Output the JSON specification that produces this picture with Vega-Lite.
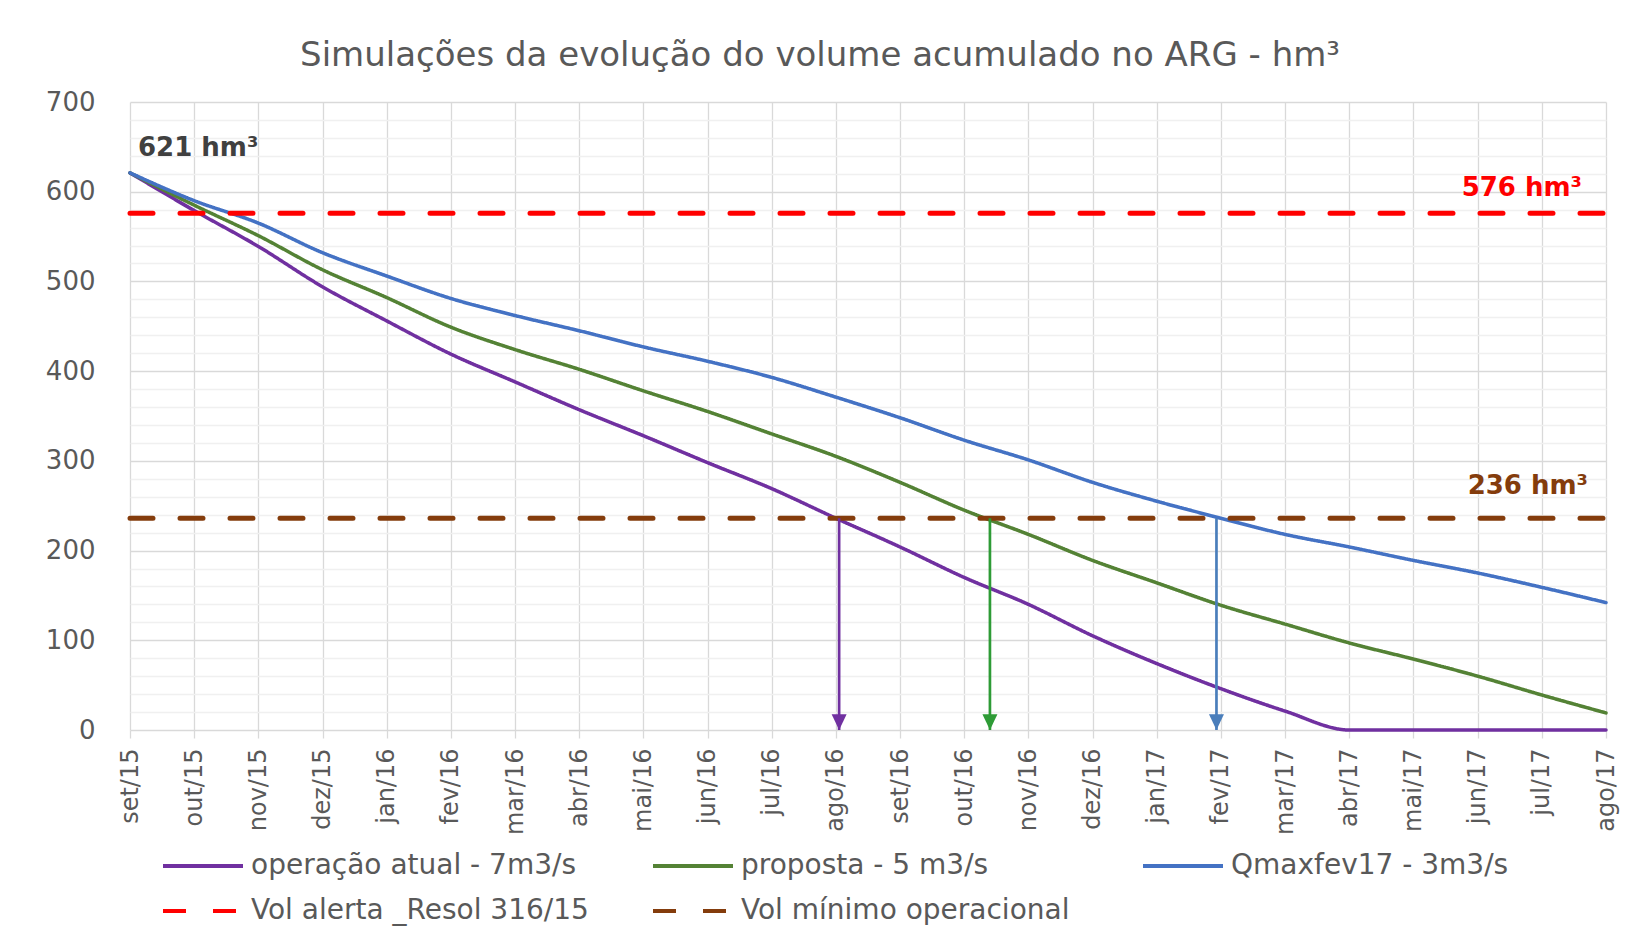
{
  "$schema": "https://vega.github.io/schema/vega-lite/v6.json",
  "autosize": {"type": "none"},
  "width": 1476,
  "height": 628,
  "padding": {"left": 130, "top": 102, "right": 20, "bottom": 209},
  "background": "white",
  "config": {"view": {"stroke": null}, "font": "DejaVu Sans"},
  "title": {
    "text": "Simulações da evolução do volume acumulado no ARG - hm³",
    "fontSize": 34,
    "font": "DejaVu Sans",
    "fontWeight": "normal",
    "color": "#595959",
    "anchor": "middle",
    "dx": -48,
    "offset": 16
  },
  "resolve": {"axis": {"y": "independent"}},
  "datasets": {
    "simulacoes": [
      {"t": 0, "mes": "set/15", "serie": "operação atual - 7m3/s", "v": 621},
      {"t": 1, "mes": "out/15", "serie": "operação atual - 7m3/s", "v": 579},
      {"t": 2, "mes": "nov/15", "serie": "operação atual - 7m3/s", "v": 539},
      {"t": 3, "mes": "dez/15", "serie": "operação atual - 7m3/s", "v": 494},
      {"t": 4, "mes": "jan/16", "serie": "operação atual - 7m3/s", "v": 456},
      {"t": 5, "mes": "fev/16", "serie": "operação atual - 7m3/s", "v": 419},
      {"t": 6, "mes": "mar/16", "serie": "operação atual - 7m3/s", "v": 388},
      {"t": 7, "mes": "abr/16", "serie": "operação atual - 7m3/s", "v": 357},
      {"t": 8, "mes": "mai/16", "serie": "operação atual - 7m3/s", "v": 328},
      {"t": 9, "mes": "jun/16", "serie": "operação atual - 7m3/s", "v": 298},
      {"t": 10, "mes": "jul/16", "serie": "operação atual - 7m3/s", "v": 269},
      {"t": 11, "mes": "ago/16", "serie": "operação atual - 7m3/s", "v": 236},
      {"t": 12, "mes": "set/16", "serie": "operação atual - 7m3/s", "v": 204},
      {"t": 13, "mes": "out/16", "serie": "operação atual - 7m3/s", "v": 170},
      {"t": 14, "mes": "nov/16", "serie": "operação atual - 7m3/s", "v": 140},
      {"t": 15, "mes": "dez/16", "serie": "operação atual - 7m3/s", "v": 105},
      {"t": 16, "mes": "jan/17", "serie": "operação atual - 7m3/s", "v": 74},
      {"t": 17, "mes": "fev/17", "serie": "operação atual - 7m3/s", "v": 46},
      {"t": 18, "mes": "mar/17", "serie": "operação atual - 7m3/s", "v": 21},
      {"t": 19, "mes": "abr/17", "serie": "operação atual - 7m3/s", "v": 0},
      {"t": 20, "mes": "mai/17", "serie": "operação atual - 7m3/s", "v": 0},
      {"t": 21, "mes": "jun/17", "serie": "operação atual - 7m3/s", "v": 0},
      {"t": 22, "mes": "jul/17", "serie": "operação atual - 7m3/s", "v": 0},
      {"t": 23, "mes": "ago/17", "serie": "operação atual - 7m3/s", "v": 0},
      {"t": 0, "mes": "set/15", "serie": "proposta - 5 m3/s", "v": 621},
      {"t": 1, "mes": "out/15", "serie": "proposta - 5 m3/s", "v": 585},
      {"t": 2, "mes": "nov/15", "serie": "proposta - 5 m3/s", "v": 551},
      {"t": 3, "mes": "dez/15", "serie": "proposta - 5 m3/s", "v": 513},
      {"t": 4, "mes": "jan/16", "serie": "proposta - 5 m3/s", "v": 482},
      {"t": 5, "mes": "fev/16", "serie": "proposta - 5 m3/s", "v": 449},
      {"t": 6, "mes": "mar/16", "serie": "proposta - 5 m3/s", "v": 424},
      {"t": 7, "mes": "abr/16", "serie": "proposta - 5 m3/s", "v": 402},
      {"t": 8, "mes": "mai/16", "serie": "proposta - 5 m3/s", "v": 378},
      {"t": 9, "mes": "jun/16", "serie": "proposta - 5 m3/s", "v": 355},
      {"t": 10, "mes": "jul/16", "serie": "proposta - 5 m3/s", "v": 330},
      {"t": 11, "mes": "ago/16", "serie": "proposta - 5 m3/s", "v": 305},
      {"t": 12, "mes": "set/16", "serie": "proposta - 5 m3/s", "v": 276},
      {"t": 13, "mes": "out/16", "serie": "proposta - 5 m3/s", "v": 245},
      {"t": 14, "mes": "nov/16", "serie": "proposta - 5 m3/s", "v": 218},
      {"t": 15, "mes": "dez/16", "serie": "proposta - 5 m3/s", "v": 189},
      {"t": 16, "mes": "jan/17", "serie": "proposta - 5 m3/s", "v": 164},
      {"t": 17, "mes": "fev/17", "serie": "proposta - 5 m3/s", "v": 139},
      {"t": 18, "mes": "mar/17", "serie": "proposta - 5 m3/s", "v": 118},
      {"t": 19, "mes": "abr/17", "serie": "proposta - 5 m3/s", "v": 97},
      {"t": 20, "mes": "mai/17", "serie": "proposta - 5 m3/s", "v": 79},
      {"t": 21, "mes": "jun/17", "serie": "proposta - 5 m3/s", "v": 60},
      {"t": 22, "mes": "jul/17", "serie": "proposta - 5 m3/s", "v": 39},
      {"t": 23, "mes": "ago/17", "serie": "proposta - 5 m3/s", "v": 19},
      {"t": 0, "mes": "set/15", "serie": "Qmaxfev17 - 3m3/s", "v": 621},
      {"t": 1, "mes": "out/15", "serie": "Qmaxfev17 - 3m3/s", "v": 590},
      {"t": 2, "mes": "nov/15", "serie": "Qmaxfev17 - 3m3/s", "v": 565},
      {"t": 3, "mes": "dez/15", "serie": "Qmaxfev17 - 3m3/s", "v": 532},
      {"t": 4, "mes": "jan/16", "serie": "Qmaxfev17 - 3m3/s", "v": 506},
      {"t": 5, "mes": "fev/16", "serie": "Qmaxfev17 - 3m3/s", "v": 481},
      {"t": 6, "mes": "mar/16", "serie": "Qmaxfev17 - 3m3/s", "v": 462},
      {"t": 7, "mes": "abr/16", "serie": "Qmaxfev17 - 3m3/s", "v": 445},
      {"t": 8, "mes": "mai/16", "serie": "Qmaxfev17 - 3m3/s", "v": 427},
      {"t": 9, "mes": "jun/16", "serie": "Qmaxfev17 - 3m3/s", "v": 411},
      {"t": 10, "mes": "jul/16", "serie": "Qmaxfev17 - 3m3/s", "v": 393},
      {"t": 11, "mes": "ago/16", "serie": "Qmaxfev17 - 3m3/s", "v": 371},
      {"t": 12, "mes": "set/16", "serie": "Qmaxfev17 - 3m3/s", "v": 348},
      {"t": 13, "mes": "out/16", "serie": "Qmaxfev17 - 3m3/s", "v": 323},
      {"t": 14, "mes": "nov/16", "serie": "Qmaxfev17 - 3m3/s", "v": 301},
      {"t": 15, "mes": "dez/16", "serie": "Qmaxfev17 - 3m3/s", "v": 276},
      {"t": 16, "mes": "jan/17", "serie": "Qmaxfev17 - 3m3/s", "v": 255},
      {"t": 17, "mes": "fev/17", "serie": "Qmaxfev17 - 3m3/s", "v": 236},
      {"t": 18, "mes": "mar/17", "serie": "Qmaxfev17 - 3m3/s", "v": 218},
      {"t": 19, "mes": "abr/17", "serie": "Qmaxfev17 - 3m3/s", "v": 204},
      {"t": 20, "mes": "mai/17", "serie": "Qmaxfev17 - 3m3/s", "v": 189},
      {"t": 21, "mes": "jun/17", "serie": "Qmaxfev17 - 3m3/s", "v": 175},
      {"t": 22, "mes": "jul/17", "serie": "Qmaxfev17 - 3m3/s", "v": 159},
      {"t": 23, "mes": "ago/17", "serie": "Qmaxfev17 - 3m3/s", "v": 142}
    ],
    "referencias": [
      {"t": 0, "serie": "Vol alerta _Resol 316/15", "v": 576},
      {"t": 23, "serie": "Vol alerta _Resol 316/15", "v": 576},
      {"t": 0, "serie": "Vol mínimo operacional", "v": 236},
      {"t": 23, "serie": "Vol mínimo operacional", "v": 236}
    ],
    "setas": [
      {"serie": "operação atual - 7m3/s", "t": 11.05, "v": 236, "v0": 0},
      {"serie": "proposta - 5 m3/s", "t": 13.4, "v": 236, "v0": 0},
      {"serie": "Qmaxfev17 - 3m3/s", "t": 16.93, "v": 236, "v0": 0}
    ]
  },
  "layer": [
    {
      "data": {"name": "simulacoes"},
      "mark": {"type": "line", "strokeWidth": 3.5, "interpolate": "monotone", "strokeCap": "round"},
      "encoding": {
        "x": {
          "field": "t", "type": "quantitative",
          "scale": {"domain": [0, 23], "nice": false, "zero": false},
          "axis": {
            "title": null,
            "values": [0,1,2,3,4,5,6,7,8,9,10,11,12,13,14,15,16,17,18,19,20,21,22,23],
            "labelExpr": "['set/15','out/15','nov/15','dez/15','jan/16','fev/16','mar/16','abr/16','mai/16','jun/16','jul/16','ago/16','set/16','out/16','nov/16','dez/16','jan/17','fev/17','mar/17','abr/17','mai/17','jun/17','jul/17','ago/17'][datum.value]",
            "labelAngle": -90,
            "labelFontSize": 24,
            "labelFont": "DejaVu Sans",
            "labelColor": "#595959",
            "labelPadding": 10,
            "labelFlush": false,
            "labelOverlap": false,
            "grid": true,
            "gridColor": "#d9d9d9",
            "gridWidth": 1.3,
            "domain": false,
            "ticks": true,
            "tickSize": 8,
            "tickColor": "#d9d9d9",
            "tickWidth": 1.3
          }
        },
        "y": {
          "field": "v", "type": "quantitative",
          "scale": {"domain": [0, 700], "nice": false},
          "axis": {
            "title": null,
            "orient": "left",
            "values": [0, 100, 200, 300, 400, 500, 600, 700],
            "labelFontSize": 26,
            "labelFont": "DejaVu Sans",
            "labelColor": "#595959",
            "labelPadding": 35,
            "labelOverlap": false,
            "grid": true,
            "gridColor": "#d9d9d9",
            "gridWidth": 1.3,
            "domain": false,
            "ticks": false,
            "zindex": 0
          }
        },
        "color": {
          "field": "serie", "type": "nominal",
          "scale": {
            "domain": ["operação atual - 7m3/s", "proposta - 5 m3/s", "Qmaxfev17 - 3m3/s", "Vol alerta _Resol 316/15", "Vol mínimo operacional"],
            "range": ["#7030A0", "#548235", "#4472C4", "#FF0000", "#843C0C"]
          },
          "legend": {
            "title": null, "orient": "none", "legendX": 59, "legendY": 750,
            "columns": 3, "direction": "horizontal", "gridAlign": "all",
            "columnPadding": 56, "rowPadding": 17,
            "symbolType": "M-4,0H4", "symbolSize": 400, "symbolStrokeWidth": 4,
            "labelFontSize": 28, "labelFont": "DejaVu Sans", "labelColor": "#595959",
            "labelOffset": 34, "labelLimit": 600
          }
        },
        "strokeDash": {
          "field": "serie", "type": "nominal",
          "scale": {
            "domain": ["operação atual - 7m3/s", "proposta - 5 m3/s", "Qmaxfev17 - 3m3/s", "Vol alerta _Resol 316/15", "Vol mínimo operacional"],
            "range": [[1, 0], [1, 0], [1, 0], [23, 27], [23, 27]]
          },
          "legend": {
            "title": null, "orient": "none", "legendX": 59, "legendY": 750,
            "columns": 3, "direction": "horizontal", "gridAlign": "all",
            "columnPadding": 56, "rowPadding": 17,
            "symbolType": "M-4,0H4", "symbolSize": 400, "symbolStrokeWidth": 4,
            "labelFontSize": 28, "labelFont": "DejaVu Sans", "labelColor": "#595959",
            "labelOffset": 34, "labelLimit": 600
          }
        }
      }
    },
    {
      "data": {"name": "referencias"},
      "mark": {"type": "line", "strokeWidth": 5, "strokeCap": "round"},
      "encoding": {
        "x": {"field": "t", "type": "quantitative"},
        "y": {
          "field": "v", "type": "quantitative",
          "axis": {
            "title": null,
            "orient": "right",
            "values": [20,40,60,80,120,140,160,180,220,240,260,280,320,340,360,380,420,440,460,480,520,540,560,580,620,640,660,680],
            "labels": false,
            "ticks": false,
            "domain": false,
            "grid": true,
            "gridColor": "#f0f0f0",
            "gridWidth": 1.3,
            "zindex": 0
          }
        },
        "color": {"field": "serie", "type": "nominal"},
        "strokeDash": {"field": "serie", "type": "nominal"}
      }
    },
    {
      "data": {"name": "setas"},
      "mark": {"type": "rule", "strokeWidth": 2.7},
      "encoding": {
        "x": {"field": "t", "type": "quantitative"},
        "y": {"field": "v", "type": "quantitative", "axis": null},
        "y2": {"field": "v0"},
        "stroke": {
          "field": "serie", "type": "nominal",
          "scale": {"domain": ["operação atual - 7m3/s", "proposta - 5 m3/s", "Qmaxfev17 - 3m3/s"], "range": ["#7030A0", "#2E9B36", "#4A7EBB"]},
          "legend": null
        }
      }
    },
    {
      "data": {"name": "setas"},
      "mark": {"type": "point", "shape": "M-1,-2.1L1,-2.1L0,0Z", "filled": true, "size": 225, "opacity": 1, "strokeWidth": 0},
      "encoding": {
        "x": {"field": "t", "type": "quantitative"},
        "y": {"field": "v0", "type": "quantitative", "axis": null},
        "fill": {
          "field": "serie", "type": "nominal",
          "scale": {"domain": ["operação atual - 7m3/s", "proposta - 5 m3/s", "Qmaxfev17 - 3m3/s"], "range": ["#7030A0", "#2E9B36", "#4A7EBB"]},
          "legend": null
        }
      }
    },
    {
      "data": {"values": [{"t": 0, "v": 621, "rotulo": "621 hm³"}]},
      "mark": {"type": "text", "align": "left", "baseline": "middle", "dx": 8, "dy": -25, "fontSize": 26, "fontWeight": "bold", "font": "DejaVu Sans", "color": "#404040"},
      "encoding": {
        "x": {"field": "t", "type": "quantitative"},
        "y": {"field": "v", "type": "quantitative", "axis": null},
        "text": {"field": "rotulo"}
      }
    },
    {
      "data": {"values": [{"t": 23, "v": 576, "rotulo": "576 hm³"}]},
      "mark": {"type": "text", "align": "right", "baseline": "middle", "dx": -24, "dy": -25, "fontSize": 26, "fontWeight": "bold", "font": "DejaVu Sans", "color": "#FF0000"},
      "encoding": {
        "x": {"field": "t", "type": "quantitative"},
        "y": {"field": "v", "type": "quantitative", "axis": null},
        "text": {"field": "rotulo"}
      }
    },
    {
      "data": {"values": [{"t": 23, "v": 236, "rotulo": "236 hm³"}]},
      "mark": {"type": "text", "align": "right", "baseline": "middle", "dx": -18, "dy": -32, "fontSize": 26, "fontWeight": "bold", "font": "DejaVu Sans", "color": "#843C0C"},
      "encoding": {
        "x": {"field": "t", "type": "quantitative"},
        "y": {"field": "v", "type": "quantitative", "axis": null},
        "text": {"field": "rotulo"}
      }
    }
  ]
}
